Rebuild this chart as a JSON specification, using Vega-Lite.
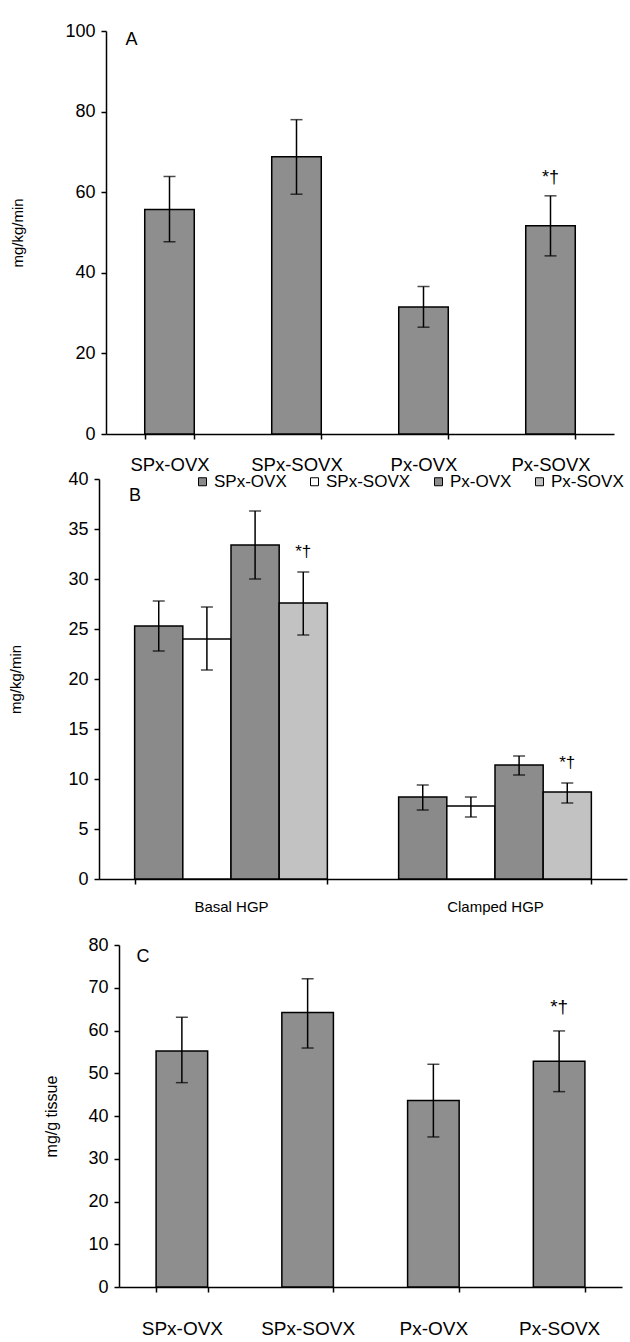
{
  "$schema": "https://vega.github.io/schema/vega-lite/v6.json",
  "padding": {"top": 22, "left": 8, "right": 0, "bottom": 0},
  "spacing": -4,
  "background": "white",
  "resolve": {"scale": {"color": "independent"}, "legend": {"color": "independent"}},
  "config": {
    "font": "Liberation Sans",
    "view": {"stroke": null},
    "axis": {
      "grid": false,
      "domainColor": "black",
      "domainWidth": 1.5,
      "tickColor": "black",
      "tickWidth": 1.5,
      "tickSize": 5,
      "labelColor": "black",
      "titleColor": "black",
      "labelFont": "Liberation Sans",
      "titleFont": "Liberation Sans",
      "titleFontWeight": "normal"
    },
    "text": {"font": "Liberation Sans", "color": "black"}
  },
  "datasets": {
    "panelA": [
      {"group": "SPx-OVX", "mean": 55.7, "lo": 47.7, "hi": 63.9, "note": ""},
      {"group": "SPx-SOVX", "mean": 68.8, "lo": 59.5, "hi": 78.0, "note": ""},
      {"group": "Px-OVX", "mean": 31.5, "lo": 26.5, "hi": 36.6, "note": ""},
      {"group": "Px-SOVX", "mean": 51.7, "lo": 44.2, "hi": 59.1, "note": "*†"}
    ],
    "panelB": [
      {"cond": "Basal HGP", "group": "SPx-OVX", "mean": 25.3, "lo": 22.8, "hi": 27.8, "note": ""},
      {"cond": "Basal HGP", "group": "SPx-SOVX", "mean": 24.0, "lo": 20.9, "hi": 27.2, "note": ""},
      {"cond": "Basal HGP", "group": "Px-OVX", "mean": 33.4, "lo": 30.0, "hi": 36.8, "note": ""},
      {"cond": "Basal HGP", "group": "Px-SOVX", "mean": 27.6, "lo": 24.4, "hi": 30.7, "note": "*†"},
      {"cond": "Clamped HGP", "group": "SPx-OVX", "mean": 8.2, "lo": 6.9, "hi": 9.4, "note": ""},
      {"cond": "Clamped HGP", "group": "SPx-SOVX", "mean": 7.3, "lo": 6.2, "hi": 8.2, "note": ""},
      {"cond": "Clamped HGP", "group": "Px-OVX", "mean": 11.4, "lo": 10.4, "hi": 12.3, "note": ""},
      {"cond": "Clamped HGP", "group": "Px-SOVX", "mean": 8.7, "lo": 7.6, "hi": 9.6, "note": "*†"}
    ],
    "panelC": [
      {"group": "SPx-OVX", "mean": 55.2, "lo": 47.8, "hi": 63.1, "note": ""},
      {"group": "SPx-SOVX", "mean": 64.2, "lo": 55.9, "hi": 72.1, "note": ""},
      {"group": "Px-OVX", "mean": 43.6, "lo": 35.1, "hi": 52.1, "note": ""},
      {"group": "Px-SOVX", "mean": 52.8, "lo": 45.7, "hi": 59.9, "note": "*†"}
    ]
  },
  "vconcat": [
    {
      "width": 495,
      "height": 403,
      "data": {"name": "panelA"},
      "encoding": {
        "x": {
          "field": "group", "type": "nominal",
          "sort": ["SPx-OVX", "SPx-SOVX", "Px-OVX", "Px-SOVX"],
          "scale": {"range": [-13, 495], "paddingInner": 0.61, "paddingOuter": 0.305},
          "axis": {"title": null, "labelAngle": 0, "labelFontSize": 18.5, "labelPadding": 16, "tickBand": "extent"}
        }
      },
      "layer": [
        {
          "mark": {"type": "bar", "fill": "#8e8e8e", "stroke": "black", "strokeWidth": 1.5},
          "encoding": {
            "y": {"field": "mean", "type": "quantitative", "title": "mg/kg/min",
              "scale": {"domain": [0, 100], "nice": false},
              "axis": {"offset": 13, "values": [0, 20, 40, 60, 80, 100], "labelFontSize": 18, "labelPadding": 6, "titleFontSize": 15, "titlePadding": 39}}
          }
        },
        {
          "mark": {"type": "rule", "color": "black", "strokeWidth": 1.5},
          "encoding": {"y": {"field": "lo", "type": "quantitative", "title": "mg/kg/min"}, "y2": {"field": "hi"}}
        },
        {
          "mark": {"type": "tick", "color": "black", "thickness": 1.5, "size": 12},
          "encoding": {"y": {"field": "lo", "type": "quantitative", "title": "mg/kg/min"}}
        },
        {
          "mark": {"type": "tick", "color": "black", "thickness": 1.5, "size": 12},
          "encoding": {"y": {"field": "hi", "type": "quantitative", "title": "mg/kg/min"}}
        },
        {
          "mark": {"type": "text", "fontSize": 18, "dy": -18, "baseline": "middle"},
          "encoding": {"y": {"field": "hi", "type": "quantitative", "title": "mg/kg/min"}, "text": {"field": "note"}}
        },
        {
          "data": {"values": [{"label": "A", "group": "SPx-OVX", "top": 100}]},
          "mark": {"type": "text", "fontSize": 18, "dx": -38, "dy": 9, "baseline": "middle"},
          "encoding": {"y": {"field": "top", "type": "quantitative", "title": "mg/kg/min"}, "text": {"field": "label"}}
        }
      ]
    },
    {
      "width": 508,
      "height": 400,
      "data": {"name": "panelB"},
      "encoding": {
        "x": {
          "field": "cond", "type": "nominal",
          "sort": ["Basal HGP", "Clamped HGP"],
          "scale": {"range": [-20, 508], "paddingInner": 0.27, "paddingOuter": 0.135},
          "axis": {"title": null, "labelAngle": 0, "labelFontSize": 15, "labelPadding": 15, "tickBand": "extent", "minExtent": 61}
        },
        "xOffset": {
          "field": "group", "type": "nominal",
          "sort": ["SPx-OVX", "SPx-SOVX", "Px-OVX", "Px-SOVX"],
          "scale": {"domain": ["SPx-OVX", "SPx-SOVX", "Px-OVX", "Px-SOVX"], "paddingInner": 0, "paddingOuter": 0}
        }
      },
      "layer": [
        {
          "mark": {"type": "bar", "stroke": "black", "strokeWidth": 1.5},
          "encoding": {
            "y": {"field": "mean", "type": "quantitative", "title": "mg/kg/min",
              "scale": {"domain": [0, 40], "nice": false},
              "axis": {"offset": 20, "values": [0, 5, 10, 15, 20, 25, 30, 35, 40], "labelFontSize": 18, "labelPadding": 6, "titleFontSize": 15, "titlePadding": 44}},
            "color": {
              "field": "group", "type": "nominal",
              "sort": ["SPx-OVX", "SPx-SOVX", "Px-OVX", "Px-SOVX"],
              "scale": {"domain": ["SPx-OVX", "SPx-SOVX", "Px-OVX", "Px-SOVX"], "range": ["#8a8a8a", "#ffffff", "#8c8c8c", "#c2c2c2"]},
              "legend": {
                "title": null, "orient": "none", "legendX": 75, "legendY": -6, "direction": "horizontal",
                "symbolType": "square", "symbolSize": 64, "symbolStrokeColor": "black", "symbolStrokeWidth": 1,
                "labelFontSize": 17, "labelColor": "black", "labelOffset": 3, "columnPadding": 19, "padding": 0
              }
            }
          }
        },
        {
          "mark": {"type": "rule", "color": "black", "strokeWidth": 1.5},
          "encoding": {"y": {"field": "lo", "type": "quantitative", "title": "mg/kg/min"}, "y2": {"field": "hi"}}
        },
        {
          "mark": {"type": "tick", "color": "black", "thickness": 1.5, "size": 12},
          "encoding": {"y": {"field": "lo", "type": "quantitative", "title": "mg/kg/min"}}
        },
        {
          "mark": {"type": "tick", "color": "black", "thickness": 1.5, "size": 12},
          "encoding": {"y": {"field": "hi", "type": "quantitative", "title": "mg/kg/min"}}
        },
        {
          "mark": {"type": "text", "fontSize": 17, "dy": -20, "baseline": "middle"},
          "encoding": {"y": {"field": "hi", "type": "quantitative", "title": "mg/kg/min"}, "text": {"field": "note"}}
        },
        {
          "data": {"values": [{"label": "B", "cond": "Basal HGP", "top": 40}]},
          "mark": {"type": "text", "fontSize": 18, "dx": -96, "dy": 17, "baseline": "middle"},
          "encoding": {"y": {"field": "top", "type": "quantitative", "title": "mg/kg/min"}, "text": {"field": "label"}, "xOffset": null}
        }
      ]
    },
    {
      "width": 503,
      "height": 342,
      "data": {"name": "panelC"},
      "encoding": {
        "x": {
          "field": "group", "type": "nominal",
          "sort": ["SPx-OVX", "SPx-SOVX", "Px-OVX", "Px-SOVX"],
          "scale": {"paddingInner": 0.59, "paddingOuter": 0.295},
          "axis": {"title": null, "labelAngle": 0, "labelFontSize": 19, "labelPadding": 27, "tickBand": "extent"}
        }
      },
      "layer": [
        {
          "mark": {"type": "bar", "fill": "#8e8e8e", "stroke": "black", "strokeWidth": 1.5},
          "encoding": {
            "y": {"field": "mean", "type": "quantitative", "title": "mg/g tissue",
              "scale": {"domain": [0, 80], "nice": false},
              "axis": {"values": [0, 10, 20, 30, 40, 50, 60, 70, 80], "labelFontSize": 18, "labelPadding": 6, "titleFontSize": 16, "titlePadding": 28}}
          }
        },
        {
          "mark": {"type": "rule", "color": "black", "strokeWidth": 1.5},
          "encoding": {"y": {"field": "lo", "type": "quantitative", "title": "mg/g tissue"}, "y2": {"field": "hi"}}
        },
        {
          "mark": {"type": "tick", "color": "black", "thickness": 1.5, "size": 12},
          "encoding": {"y": {"field": "lo", "type": "quantitative", "title": "mg/g tissue"}}
        },
        {
          "mark": {"type": "tick", "color": "black", "thickness": 1.5, "size": 12},
          "encoding": {"y": {"field": "hi", "type": "quantitative", "title": "mg/g tissue"}}
        },
        {
          "mark": {"type": "text", "fontSize": 19, "dy": -24, "baseline": "middle"},
          "encoding": {"y": {"field": "hi", "type": "quantitative", "title": "mg/g tissue"}, "text": {"field": "note"}}
        },
        {
          "data": {"values": [{"label": "C", "group": "SPx-OVX", "top": 80}]},
          "mark": {"type": "text", "fontSize": 18, "dx": -39, "dy": 12, "baseline": "middle"},
          "encoding": {"y": {"field": "top", "type": "quantitative", "title": "mg/g tissue"}, "text": {"field": "label"}}
        }
      ]
    }
  ]
}
